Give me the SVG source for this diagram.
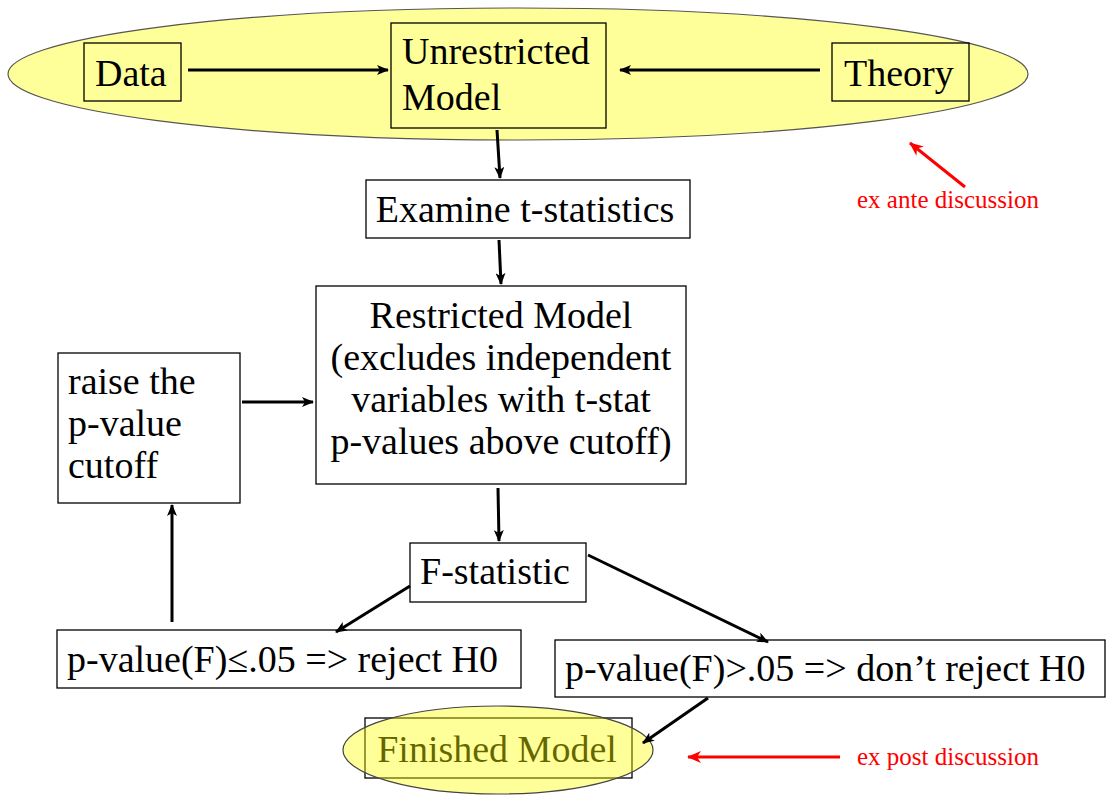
<svg xmlns="http://www.w3.org/2000/svg" width="1107" height="797" viewBox="0 0 1107 797">
<defs>
<marker id="ah" viewBox="0 0 12 10" refX="11" refY="5" markerWidth="12" markerHeight="10" markerUnits="userSpaceOnUse" orient="auto">
<path d="M0,0 L12,5 L0,10 L3,5 Z" fill="#000"/>
</marker>
<marker id="ahr" viewBox="0 0 14 12" refX="13" refY="6" markerWidth="14" markerHeight="12" markerUnits="userSpaceOnUse" orient="auto">
<path d="M0,0 L14,6 L0,12 L4,6 Z" fill="#ff0000"/>
</marker>
</defs>
<style>
.box{fill:#fff;stroke:#000;stroke-width:1.3}
.ybox{fill:none;stroke:#000;stroke-width:1.3}
.t{font-family:"Liberation Serif","Times New Roman",serif;font-size:38px;fill:#000}
.red{font-family:"Liberation Serif","Times New Roman",serif;font-size:25px;fill:#ff0000}
.c{stroke:#000;stroke-width:3;fill:none;marker-end:url(#ah)}
.rc{stroke:#ff0000;stroke-width:3;fill:none;marker-end:url(#ahr)}
</style>
<rect width="1107" height="797" fill="#fff"/>
<g id="ante-ellipse">
<ellipse cx="518" cy="74" rx="510" ry="66" fill="#ffff99" stroke="#555" stroke-width="1.2"/>
</g>
<g id="data">
<rect class="ybox" x="84" y="43" width="97" height="58"/>
<text class="t" x="95" y="86">Data</text>
</g>
<g id="unrestricted">
<rect class="ybox" x="391" y="23" width="215" height="105"/>
<text class="t" x="402" y="64">Unrestricted</text>
<text class="t" x="402" y="110">Model</text>
</g>
<g id="theory">
<rect class="ybox" x="832" y="43" width="137" height="58"/>
<text class="t" x="844" y="86">Theory</text>
</g>
<g id="examine">
<rect class="box" x="366" y="180" width="324" height="58"/>
<text class="t" x="525" y="222" text-anchor="middle">Examine t-statistics</text>
</g>
<g id="restricted">
<rect class="box" x="316" y="286" width="370" height="198"/>
<text class="t" x="501" y="328" text-anchor="middle">Restricted Model</text>
<text class="t" x="501" y="370" text-anchor="middle">(excludes independent</text>
<text class="t" x="501" y="412" text-anchor="middle">variables with t-stat</text>
<text class="t" x="501" y="454" text-anchor="middle">p-values above cutoff)</text>
</g>
<g id="raise">
<rect class="box" x="58" y="353" width="182" height="150"/>
<text class="t" x="68" y="394">raise the</text>
<text class="t" x="68" y="436">p-value</text>
<text class="t" x="68" y="478">cutoff</text>
</g>
<g id="fstat">
<rect class="box" x="410" y="543" width="176" height="59"/>
<text class="t" x="495" y="584" text-anchor="middle">F-statistic</text>
</g>
<g id="reject">
<rect class="box" x="57" y="630" width="464" height="58"/>
<text class="t" x="67" y="672">p-value(F)≤.05 =&gt; reject H0</text>
</g>
<g id="dont-reject">
<rect class="box" x="555" y="640" width="550" height="57"/>
<text class="t" x="565" y="681">p-value(F)&gt;.05 =&gt; don’t reject H0</text>
</g>
<g id="finished">
<rect x="365" y="718" width="267" height="60" fill="none" stroke="#000" stroke-width="1.3"/>
<text class="t" x="497" y="762" text-anchor="middle">Finished Model</text>
<ellipse cx="498" cy="750" rx="155" ry="44" fill="#ffff00" fill-opacity="0.4" stroke="#444" stroke-width="1.2"/>
</g>
<g id="labels">
<text class="red" x="857" y="208">ex ante discussion</text>
<text class="red" x="857" y="765">ex post discussion</text>
</g>
<g id="connectors">
<line class="c" x1="188" y1="70" x2="388" y2="70"/>
<line class="c" x1="820" y1="70" x2="620" y2="70"/>
<line class="c" x1="497" y1="130" x2="500" y2="178"/>
<line class="c" x1="499" y1="240" x2="501" y2="284"/>
<line class="c" x1="242" y1="402" x2="313" y2="402"/>
<line class="c" x1="498" y1="488" x2="499" y2="541"/>
<line class="c" x1="410" y1="586" x2="336" y2="632"/>
<line class="c" x1="588" y1="555" x2="768" y2="642"/>
<line class="c" x1="708" y1="698" x2="643" y2="743"/>
<line class="c" x1="172" y1="622" x2="172" y2="505"/>
<line class="rc" x1="965" y1="187" x2="910" y2="143"/>
<line class="rc" x1="840" y1="757" x2="688" y2="757"/>
</g>
</svg>
